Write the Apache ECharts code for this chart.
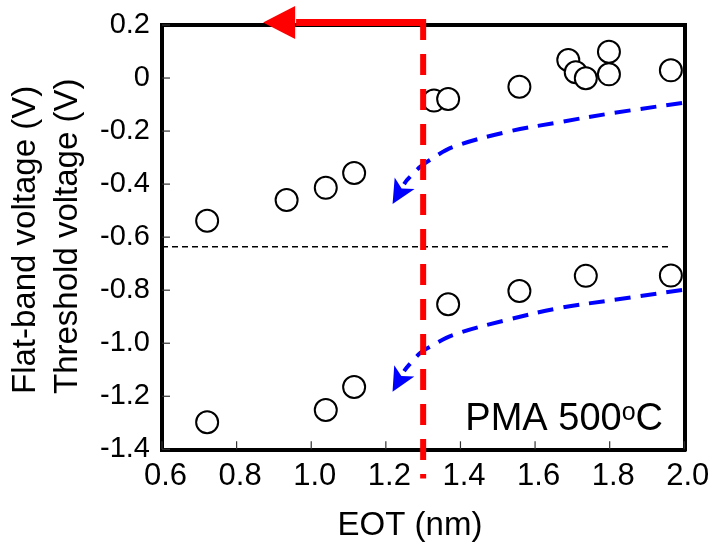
<!DOCTYPE html>
<html>
<head>
<meta charset="utf-8">
<script src="https://cdn.jsdelivr.net/npm/echarts@6/dist/echarts.min.js"></script>
<style>
  html, body { margin: 0; padding: 0; background: #fff; }
  #chart { width: 713px; height: 551px; }
</style>
</head>
<body>
<div id="chart"></div>
<script>
// Flat-band voltage (upper set) and threshold voltage (lower set) against EOT
const eotFlatBand = [0.721, 0.934, 1.039, 1.115, 1.329, 1.367, 1.558, 1.689, 1.709, 1.736, 1.798, 1.798, 1.964];
const vFlatBand   = [-0.538, -0.460, -0.414, -0.358, -0.085, -0.079, -0.033, 0.068, 0.022, -0.001, 0.099, 0.014, 0.029];
const eotThreshold = [0.721, 1.039, 1.115, 1.367, 1.558, 1.736, 1.964];
const vThreshold   = [-1.298, -1.252, -1.165, -0.853, -0.803, -0.746, -0.745];

// axis tick labels
const xTickLabels = ['0.6', '0.8', '1.0', '1.2', '1.4', '1.6', '1.8', '2.0'];
const yTickLabels = ['-1.4', '-1.2', '-1.0', '-0.8', '-0.6', '-0.4', '-0.2', '0', '0.2'];

// separating level between the two sets
const refLevelEot = [0.6, 1.967];
const refLevelV   = [-0.636, -0.636];

// EOT cut-off marker and its leftward arrow
const cutoffEot = [1.3, 1.3];
const cutoffV   = [0.2226, -1.51];
const cutoffArrowEot = [1.3, 0.871];   // shaft start, arrow tip
const cutoffArrowV   = [0.209, 0.209];

// trend guides, drawn from the right towards the arrow heads
const upperTrendEot = [1.994, 1.809, 1.667, 1.525, 1.380, 1.318, 1.292, 1.257, 1.249];
const upperTrendV   = [-0.094, -0.132, -0.166, -0.203, -0.260, -0.309, -0.335, -0.384, -0.400];
const lowerTrendEot = [1.994, 1.809, 1.667, 1.525, 1.380, 1.318, 1.292, 1.257, 1.249];
const lowerTrendV   = [-0.799, -0.837, -0.867, -0.912, -0.969, -1.014, -1.037, -1.090, -1.105];
const trendTipEot = [1.218, 1.218];
const trendTipV   = [-0.475, -1.183];

const FONT = '"Liberation Sans", Arial, Helvetica, sans-serif';
const X_MIN = 0.6, X_MAX = 2.0, Y_MIN = -1.4, Y_MAX = 0.2, STEP = 0.2;

const zip = (xs, ys) => xs.map((x, i) => [x, ys[i]]);

// polygon for an arrow head pointing from `from` to `tip` (pixel coords)
function headPoints(tip, from, len, half, notch) {
  const dx = tip[0] - from[0], dy = tip[1] - from[1];
  const d = Math.hypot(dx, dy) || 1;
  const ux = dx / d, uy = dy / d, nx = -uy, ny = ux;
  const bx = tip[0] - len * ux, by = tip[1] - len * uy;
  return {
    back: [bx, by],
    pts: [
      tip,
      [bx + half * nx, by + half * ny],
      [bx + notch * ux, by + notch * uy],
      [bx - half * nx, by - half * ny]
    ]
  };
}

const trendHeads = trendTipEot.map((x, i) => [
  x, trendTipV[i],
  i === 0 ? upperTrendEot[upperTrendEot.length - 1] : lowerTrendEot[lowerTrendEot.length - 1],
  i === 0 ? upperTrendV[upperTrendV.length - 1] : lowerTrendV[lowerTrendV.length - 1]
]);

// inward tick marks on the bottom (kind 0) and left (kind 1) edges
const tickMarks = xTickLabels.map(l => [parseFloat(l), Y_MIN, 0])
  .concat(yTickLabels.map(l => [X_MIN, parseFloat(l), 1]));

const chart = echarts.init(document.getElementById('chart'), null, { renderer: 'canvas' });

const frameLine = { show: true, onZero: false, lineStyle: { color: '#000', width: 4, cap: 'square' } };
const plainSide = {
  axisLine: frameLine, axisTick: { show: false }, axisLabel: { show: false }, splitLine: { show: false }
};

const option = {
  animation: false,
  backgroundColor: '#fff',
  textStyle: { fontFamily: FONT },
  grid: { left: 162, top: 25, right: 28.7, bottom: 101.7, containLabel: false },
  xAxis: [
    {
      type: 'value', min: X_MIN, max: X_MAX, interval: STEP, position: 'bottom',
      axisLine: frameLine,
      splitLine: { show: false },
      axisTick: { show: false },
      axisLabel: {
        margin: 12, fontSize: 31, color: '#000', fontFamily: FONT, padding: [0, 0, 0, 7],
        formatter: v => xTickLabels[Math.round((v - X_MIN) / STEP)]
      }
    },
    Object.assign({ type: 'value', min: X_MIN, max: X_MAX, interval: STEP, position: 'top' }, plainSide)
  ],
  yAxis: [
    {
      type: 'value', min: Y_MIN, max: Y_MAX, interval: STEP, position: 'left',
      axisLine: frameLine,
      splitLine: { show: false },
      axisTick: { show: false },
      axisLabel: {
        margin: 12, fontSize: 29, color: '#000', fontFamily: FONT,
        formatter: v => yTickLabels[Math.round((v - Y_MIN) / STEP)]
      }
    },
    Object.assign({ type: 'value', min: Y_MIN, max: Y_MAX, interval: STEP, position: 'right' }, plainSide)
  ],
  graphic: [
    {
      type: 'text', x: 26, y: 394, rotation: Math.PI / 2,
      style: { text: 'Flat-band voltage (V)', font: '33px ' + FONT, fill: '#000',
               textAlign: 'left', textVerticalAlign: 'middle' }
    },
    {
      type: 'text', x: 68, y: 394, rotation: Math.PI / 2,
      style: { text: 'Threshold voltage (V)', font: '33px ' + FONT, fill: '#000',
               textAlign: 'left', textVerticalAlign: 'middle' }
    },
    {
      type: 'text', x: 410, y: 526,
      style: { text: 'EOT (nm)', font: '33px ' + FONT, fill: '#000',
               textAlign: 'center', textVerticalAlign: 'middle' }
    },
    {
      type: 'text', x: 663, y: 420, z: 10,
      style: {
        text: '{n|PMA 500}{s|o}{n|C}',
        textAlign: 'right', textVerticalAlign: 'middle',
        rich: {
          n: { fontSize: 38, fontFamily: FONT, fill: '#000', color: '#000' },
          s: { fontSize: 25, fontFamily: FONT, fill: '#000', color: '#000', verticalAlign: 'top' }
        }
      }
    }
  ],
  series: [
    {
      type: 'custom', z: 6, silent: true, clip: false,
      data: tickMarks,
      renderItem: (params, api) => {
        const p = api.coord([api.value(0), api.value(1)]);
        const vertical = api.value(2) === 0;
        return {
          type: 'line',
          shape: vertical
            ? { x1: p[0], y1: p[1], x2: p[0], y2: p[1] - 8 }
            : { x1: p[0], y1: p[1], x2: p[0] + 8, y2: p[1] },
          style: { stroke: '#333', lineWidth: 1.2 }
        };
      }
    },
    {
      name: 'Flat-band voltage', type: 'scatter', z: 2,
      data: zip(eotFlatBand, vFlatBand),
      symbol: 'circle', symbolSize: 22,
      itemStyle: { color: '#fff', borderColor: '#000', borderWidth: 2, opacity: 1 }
    },
    {
      name: 'Threshold voltage', type: 'scatter', z: 2,
      data: zip(eotThreshold, vThreshold),
      symbol: 'circle', symbolSize: 22,
      itemStyle: { color: '#fff', borderColor: '#000', borderWidth: 2, opacity: 1 }
    },
    {
      type: 'line', z: 3, silent: true,
      data: zip(refLevelEot, refLevelV),
      showSymbol: false, symbol: 'none',
      lineStyle: { color: '#000', width: 1.4, type: [6, 4] }
    },
    {
      type: 'line', z: 4, silent: true, clip: false,
      data: zip(upperTrendEot, upperTrendV),
      smooth: 0.35, showSymbol: false, symbol: 'none',
      lineStyle: { color: '#0000ff', width: 4, type: [16, 10], cap: 'butt' }
    },
    {
      type: 'line', z: 4, silent: true, clip: false,
      data: zip(lowerTrendEot, lowerTrendV),
      smooth: 0.35, showSymbol: false, symbol: 'none',
      lineStyle: { color: '#0000ff', width: 4, type: [16, 10], cap: 'butt' }
    },
    {
      type: 'custom', z: 4, silent: true, clip: false,
      data: trendHeads,
      renderItem: (params, api) => {
        const tip = api.coord([api.value(0), api.value(1)]);
        const from = api.coord([api.value(2), api.value(3)]);
        const h = headPoints(tip, from, 24, 11.5, 6);
        return { type: 'polygon', shape: { points: h.pts }, style: { fill: '#0000ff' } };
      }
    },
    {
      type: 'line', z: 5, silent: true, clip: false,
      data: zip(cutoffEot, cutoffV),
      showSymbol: false, symbol: 'none',
      lineStyle: { color: '#ff0000', width: 6, type: [21, 14], cap: 'butt' }
    },
    {
      type: 'custom', z: 5, silent: true, clip: false,
      data: [[cutoffArrowEot[0], cutoffArrowV[0], cutoffArrowEot[1], cutoffArrowV[1]]],
      renderItem: (params, api) => {
        const start = api.coord([api.value(0), api.value(1)]);
        const tip = api.coord([api.value(2), api.value(3)]);
        const h = headPoints(tip, start, 32, 16.5, 0);
        return {
          type: 'group',
          children: [
            { type: 'line', shape: { x1: start[0], y1: start[1], x2: h.back[0] + 1, y2: h.back[1] },
              style: { stroke: '#ff0000', lineWidth: 7, lineCap: 'butt' } },
            { type: 'polygon', shape: { points: h.pts }, style: { fill: '#ff0000' } }
          ]
        };
      }
    }
  ]
};

chart.setOption(option);
</script>
</body>
</html>
